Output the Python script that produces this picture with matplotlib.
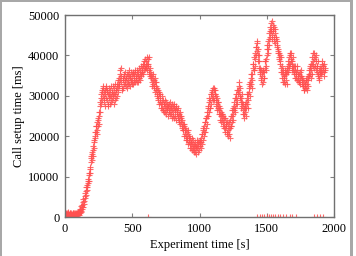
import matplotlib
matplotlib.use('Agg')
import matplotlib.pyplot as plt
import numpy as np
from matplotlib.patches import Rectangle

plt.rcParams['font.family'] = ['Liberation Serif', 'DejaVu Serif']

# call setup time samples, one every 5 s, in seconds (x1000 -> ms)
step_s = 5
setup_k = [
    0.5, 0.8, 0.3, 1.0, 0.6, 0.9, 0.4, 0.7, 1.1, 0.5, 0.8, 0.3, 0.9, 0.6, 1.0, 0.4, 0.7, 0.9, 0.5, 1.2,
    0.8, 1.5, 1.0, 2.0, 1.4, 2.6, 3.0, 2.4, 4.0, 5.2, 4.6, 6.5, 8.0, 7.4, 9.5, 10.5, 9.0, 12.0, 14.5, 13.5,
    15.5, 17.5, 15.0, 18.5, 21.0, 19.5, 22.5, 23.5, 21.5, 24.0, 25.0, 23.0, 27.5, 29.5, 28.0, 31.0, 30.0, 32.0, 29.5, 31.5,
    30.5, 32.5, 29.0, 31.0, 28.0, 30.5, 29.5, 31.5, 30.0, 28.5, 31.0, 29.5, 30.5, 32.0, 29.0, 30.5, 31.5, 33.0, 30.0, 32.5,
    34.5, 33.0, 36.5, 35.0, 33.5, 32.0, 34.0, 33.0, 35.0, 34.0, 32.5, 34.5, 33.5, 35.5, 34.0, 33.0, 34.5, 35.0, 33.5, 35.5,
    34.0, 35.5, 33.5, 34.5, 36.0, 35.0, 34.5, 33.5, 35.0, 36.0, 34.5, 35.5, 36.5, 35.0, 37.0, 36.0, 37.5, 36.5, 38.0, 37.0,
    38.5, 37.5, 38.0, 39.0, 37.5, 36.5, 35.0, 36.0, 34.5, 33.5, 35.0, 33.0, 34.0, 32.5, 33.5, 31.5, 32.5, 30.5, 31.5, 29.5,
    30.5, 28.5, 29.5, 28.0, 27.0, 29.0, 26.5, 28.0, 27.5, 26.0, 28.5, 27.0, 26.5, 27.5, 28.0, 26.0, 27.0, 25.5, 27.0, 26.5,
    27.5, 26.0, 27.0, 25.0, 26.5, 27.5, 25.5, 26.0, 24.5, 25.5, 24.0, 25.0, 23.5, 24.5, 22.5, 23.0, 21.5, 22.5, 20.5, 21.5,
    20.0, 21.0, 19.5, 20.5, 18.5, 19.5, 18.0, 17.0, 18.5, 19.5, 17.5, 16.5, 18.0, 17.5, 16.0, 17.5, 19.0, 17.0, 18.5, 16.5,
    17.5, 18.5, 19.5, 18.0, 20.5, 21.5, 20.0, 22.5, 23.5, 22.0, 24.5, 26.0, 25.0, 27.5, 28.5, 27.0, 29.0, 30.5, 29.5, 31.0,
    30.0, 31.5, 32.0, 30.5, 29.0, 30.0, 28.0, 27.0, 28.5, 26.5, 25.5, 27.0, 25.0, 24.0, 25.5, 23.5, 24.5, 23.0, 22.0, 23.5,
    22.5, 21.0, 23.0, 21.5, 20.5, 22.0, 24.0, 22.5, 25.0, 26.5, 25.5, 27.5, 28.5, 27.0, 29.5, 30.5, 29.0, 31.5, 32.5, 31.0,
    30.0, 28.5, 29.5, 27.5, 26.5, 28.0, 25.5, 27.0, 26.0, 28.5, 29.5, 28.0, 30.5, 32.0, 31.0, 33.5, 34.5, 33.0, 35.5, 37.0,
    38.0, 36.5, 39.0, 40.5, 42.0, 41.0, 43.0, 40.0, 38.5, 37.0, 35.5, 36.5, 34.0, 35.0, 33.5, 36.0, 34.5, 37.0, 38.5, 37.5,
    40.0, 42.5, 41.5, 44.0, 45.5, 47.0, 48.0, 46.5, 45.0, 47.5, 46.0, 44.5, 45.5, 43.0, 44.0, 42.0, 40.5, 41.5, 39.0, 40.0,
    38.5, 37.0, 36.0, 34.5, 35.5, 33.5, 35.0, 36.5, 34.0, 35.5, 37.0, 36.0, 38.5, 39.5, 38.0, 40.0, 39.0, 37.5, 38.5, 36.5,
    37.5, 35.5, 36.5, 34.5, 35.5, 36.5, 34.0, 35.0, 33.5, 34.5, 36.0, 35.0, 33.0, 34.5, 32.5, 33.5, 31.5, 33.0, 32.0, 34.0,
    33.0, 35.0, 34.0, 36.5, 35.5, 37.5, 36.5, 38.0, 39.5, 38.5, 40.5, 39.0, 37.5, 38.5, 36.0, 37.5, 35.0, 36.5, 34.5, 36.0,
    37.0, 35.5, 38.0, 36.5, 37.5, 36.0, 37.0,
]
# second batch of samples, taken 2.5 s after the first ones
setup_k_b = [
    0.2, 1.0, 0.6, 0.4, 1.2, 0.3, 0.8, 1.0, 0.5, 0.9, 0.4, 1.1, 0.6, 0.3, 0.8, 1.0, 0.5, 0.4, 1.0, 0.7,
    1.2, 0.6, 1.8, 1.2, 2.8, 2.0, 3.6, 4.4, 3.2, 6.0, 5.5, 7.5, 6.8, 9.0, 8.5, 11.0, 12.5, 11.0, 15.0, 16.0,
    14.0, 16.5, 19.0, 17.0, 20.0, 22.5, 21.0, 20.5, 24.5, 22.5, 26.0, 28.5, 26.0, 30.5, 31.5, 29.0, 32.5, 28.5, 31.0, 27.5,
    32.0, 29.5, 31.5, 27.5, 30.5, 32.0, 28.0, 30.0, 32.5, 31.0, 29.0, 32.5, 28.0, 30.5, 33.0, 31.5, 29.5, 32.0, 34.0, 31.0,
    32.5, 35.5, 34.0, 37.0, 31.5, 34.5, 32.0, 35.5, 33.0, 36.0, 34.5, 32.0, 35.5, 33.0, 36.5, 35.0, 32.5, 34.0, 36.0, 33.0,
    36.0, 33.0, 35.5, 36.5, 33.5, 34.0, 36.5, 35.5, 33.5, 34.5, 37.0, 34.0, 35.5, 37.5, 36.0, 38.0, 35.5, 38.5, 37.0, 39.0,
    37.0, 39.5, 36.5, 38.0, 39.5, 35.5, 37.0, 34.5, 35.5, 32.5, 34.0, 35.5, 32.0, 34.5, 31.0, 33.5, 30.0, 32.0, 29.0, 31.0,
    28.0, 30.5, 27.0, 30.0, 28.5, 26.5, 28.0, 26.0, 29.0, 27.0, 25.5, 28.0, 27.5, 25.0, 26.5, 28.5, 25.5, 27.5, 24.5, 28.0,
    25.0, 28.0, 24.5, 26.5, 27.0, 24.0, 26.5, 27.0, 25.0, 23.5, 26.0, 23.0, 25.0, 22.0, 24.0, 21.5, 23.0, 20.0, 22.0, 19.0,
    21.5, 19.0, 21.5, 18.0, 20.0, 17.0, 19.5, 18.5, 16.5, 18.0, 19.0, 16.0, 17.0, 18.5, 17.0, 15.5, 18.0, 16.0, 17.5, 18.5,
    19.0, 17.0, 18.5, 20.5, 19.0, 22.0, 21.0, 23.5, 21.0, 24.5, 23.0, 25.0, 27.0, 26.0, 29.5, 27.0, 30.5, 28.0, 31.5, 29.0,
    32.0, 29.0, 30.5, 31.5, 27.5, 29.5, 26.5, 28.5, 25.5, 27.5, 24.0, 26.0, 23.5, 25.5, 22.5, 25.0, 22.0, 24.5, 21.0, 22.5,
    20.5, 23.5, 20.0, 22.0, 23.5, 19.5, 22.5, 25.0, 23.5, 27.0, 24.0, 26.5, 29.5, 26.0, 28.0, 31.5, 28.0, 30.5, 33.5, 29.5,
    32.0, 27.0, 30.5, 28.5, 25.5, 27.0, 24.5, 28.0, 25.0, 27.0, 30.5, 27.0, 29.0, 33.0, 30.0, 32.5, 35.5, 32.0, 34.0, 38.0,
    36.5, 39.5, 37.5, 42.0, 40.0, 43.5, 41.5, 38.5, 40.0, 36.0, 37.0, 34.5, 36.0, 33.0, 36.5, 34.5, 36.0, 38.5, 36.5, 39.0,
    41.5, 40.5, 43.5, 42.5, 46.0, 44.5, 46.0, 48.5, 44.0, 46.5, 47.0, 43.5, 46.5, 44.5, 42.5, 43.5, 41.0, 39.5, 40.5, 38.0,
    39.5, 36.0, 37.5, 33.5, 36.5, 34.5, 33.0, 35.5, 36.0, 33.0, 36.0, 37.5, 37.0, 38.0, 40.5, 38.5, 40.5, 36.5, 39.5, 37.5,
    36.0, 37.5, 34.5, 36.0, 34.0, 37.5, 35.5, 33.5, 35.5, 33.0, 35.0, 36.5, 34.0, 32.5, 34.0, 31.5, 33.0, 32.0, 34.0, 31.5,
    34.5, 32.5, 35.5, 35.0, 37.0, 34.5, 38.0, 35.5, 37.5, 40.5, 37.0, 39.5, 40.0, 36.5, 37.5, 35.5, 38.5, 34.0, 35.5, 37.0,
    36.0, 38.5, 36.0, 37.5, 35.0, 38.0, 36.5,
]
# failed calls recorded with zero setup time
zero_times = [615, 1430, 1450, 1465, 1480, 1500, 1520, 1535, 1550, 1565, 1580,
              1600, 1620, 1645, 1670, 1690, 1715, 1850, 1870, 1895, 1915]

times = np.arange(len(setup_k)) * step_s
times_b = np.arange(len(setup_k_b)) * step_s + step_s / 2
setup_ms = np.array(setup_k) * 1000
setup_ms_b = np.array(setup_k_b) * 1000

fig = plt.figure(figsize=(3.56, 2.56), dpi=100)
ax = fig.add_axes([0.1826, 0.1523, 0.7556, 0.789])

red = '#ff5050'
ax.plot(times, setup_ms, '+', color=red, ms=5, mew=0.8, alpha=0.85)
ax.plot(times_b, setup_ms_b, '+', color=red, ms=5, mew=0.8, alpha=0.85)
ax.plot(zero_times, np.zeros(len(zero_times)), '+', color=red, ms=4, mew=0.8, alpha=0.85)

ax.set_xlim(0, 2000)
ax.set_ylim(0, 50000)
ax.set_xticks([0, 500, 1000, 1500, 2000])
ax.set_yticks([0, 10000, 20000, 30000, 40000, 50000])
ax.tick_params(direction='in', length=3, width=0.8, color='#808080',
               top=True, right=True, labelsize=9, pad=4)
for s in ax.spines.values():
    s.set_color('#707070')
    s.set_linewidth(1.0)
ax.set_xlabel('Experiment time [s]', fontsize=9, labelpad=3)
ax.set_ylabel('Call setup time [ms]', fontsize=9, labelpad=2)

# screenshot frame around the figure
gray = '#a8a8a8'
fig.add_artist(Rectangle((0, 1 - 2 / 256), 353 / 356, 2 / 256, transform=fig.transFigure, color=gray, lw=0))
fig.add_artist(Rectangle((0, 0), 2 / 356, 1, transform=fig.transFigure, color=gray, lw=0))
fig.add_artist(Rectangle((350 / 356, 0), 3 / 356, 1, transform=fig.transFigure, color=gray, lw=0))

fig.savefig('out.png', dpi=100)
